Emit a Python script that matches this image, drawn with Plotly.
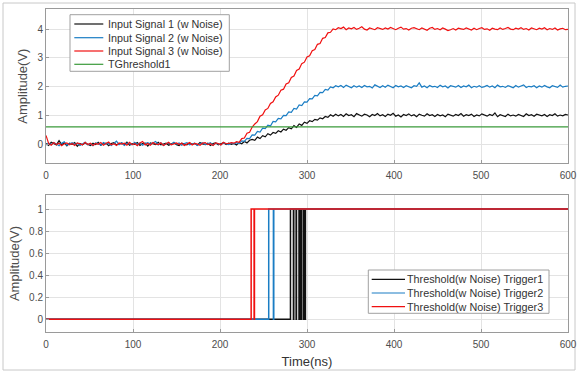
import numpy as np
import plotly.graph_objects as go

# ---------------- data (sampled every 3 ns from 0 to 600 ns) ----------------
signal1 = [
    0.02, -0.05, 0.06, 0.01, -0.03, 0.12, -0.02, 0.04, -0.06, 0.03,
    -0.01, 0.05, -0.08, 0.02, -0.03, 0.04, 0.00, -0.05, 0.03, -0.02,
    0.06, -0.04, 0.01, 0.03, -0.06, 0.02, 0.05, -0.03, 0.00, 0.04,
    -0.02, 0.07, -0.04, 0.01, -0.01, 0.05, -0.05, 0.02, 0.03, -0.07,
    0.04, 0.01, -0.02, 0.06, -0.03, 0.00, 0.03, -0.04, 0.02, 0.05,
    -0.02, -0.05, 0.03, 0.01, -0.03, 0.04, -0.01, 0.02, -0.04, 0.05,
    0.00, -0.02, 0.03, -0.05, 0.02, 0.04, -0.03, 0.01, 0.05, -0.02,
    0.03, -0.01, 0.02, -0.03, 0.05, 0.01, 0.09, 0.04, 0.13, 0.16,
    0.13, 0.24, 0.19, 0.29, 0.25, 0.36, 0.31, 0.40, 0.37, 0.46,
    0.42, 0.52, 0.48, 0.57, 0.53, 0.64, 0.58, 0.70, 0.65, 0.76,
    0.72, 0.81, 0.78, 0.86, 0.83, 0.91, 0.88, 0.96, 0.93, 1.02,
    0.97, 1.04, 0.98, 1.03, 0.96, 1.05, 0.99, 1.02, 0.95, 1.06,
    1.00, 0.97, 1.04, 1.01, 0.95, 1.03, 0.99, 1.06, 0.98, 1.02,
    0.96, 1.04, 1.00, 1.07, 0.97, 1.01, 0.94, 1.03, 0.99, 1.05,
    0.98, 1.02, 0.95, 1.04, 1.00, 0.97, 1.05, 0.99, 1.02, 0.96,
    1.03, 0.98, 1.01, 0.95, 1.04, 1.00, 0.97, 1.03, 0.99, 1.06,
    0.97, 1.02, 0.99, 1.04, 0.96, 1.01, 0.98, 1.05, 1.00, 0.97,
    1.03, 0.99, 1.08, 0.95, 1.02, 1.00, 0.96, 1.04, 0.98, 1.01,
    0.97, 1.03, 1.00, 0.96, 1.05, 0.99, 1.02, 0.97, 1.04, 1.00,
    0.98, 1.03, 0.96, 1.02, 0.99, 1.05, 0.97, 1.01, 0.98, 1.03,
    1.01,
]

signal2 = [
    -0.03, 0.04, -0.02, 0.05, 0.00, -0.06, 0.03, 0.08, -0.04, 0.01,
    0.05, -0.02, 0.03, -0.05, 0.02, 0.06, -0.03, 0.01, -0.06, 0.04,
    0.02, -0.04, 0.05, 0.00, 0.03, -0.05, 0.02, 0.10, -0.02, 0.04,
    -0.05, 0.03, 0.01, -0.03, 0.06, -0.02, 0.04, -0.04, 0.02, 0.05,
    -0.01, 0.03, 0.09, -0.03, 0.04, -0.05, 0.01, 0.03, -0.02, 0.06,
    0.00, 0.04, -0.04, 0.02, 0.05, -0.03, 0.01, 0.03, -0.05, 0.02,
    0.04, -0.02, 0.01, 0.05, -0.04, 0.03, 0.00, -0.03, 0.04, 0.02,
    -0.02, 0.03, 0.01, 0.05, 0.02, 0.11, 0.09, 0.20, 0.19, 0.32,
    0.31, 0.44, 0.42, 0.55, 0.54, 0.66, 0.63, 0.79, 0.77, 0.89,
    0.88, 1.00, 0.99, 1.12, 1.10, 1.24, 1.22, 1.36, 1.34, 1.47,
    1.46, 1.58, 1.57, 1.69, 1.68, 1.80, 1.79, 1.90, 1.88, 1.99,
    1.96, 2.03, 1.99, 2.04, 1.97, 2.05, 2.00, 1.96, 2.03, 1.98,
    2.02, 1.97, 2.04, 1.99, 2.01, 1.95, 2.06, 2.00, 1.97, 2.03,
    1.98, 2.05, 2.00, 1.96, 2.04, 1.99, 2.02, 1.97, 2.03, 2.00,
    1.96, 2.03, 2.01, 2.13, 1.98, 2.02, 1.96, 2.04, 1.99, 2.01,
    1.97, 2.05, 1.99, 2.02, 1.95, 2.03, 2.00, 1.98, 2.04, 1.97,
    2.02, 1.99, 2.05, 1.96, 2.01, 1.98, 2.03, 1.97, 2.00, 2.04,
    1.98, 2.02, 1.96, 2.05, 1.99, 2.01, 1.97, 2.03, 2.00, 1.96,
    2.04, 1.98, 2.02, 2.06, 1.97, 2.01, 1.99, 2.03, 1.96, 2.02,
    1.98, 2.04, 1.99, 1.96, 2.03, 2.00, 1.97, 2.05, 1.98, 2.01,
    2.02,
]

signal3 = [
    0.30, 0.02, -0.04, 0.05, -0.02, 0.03, -0.06, 0.01, 0.04, -0.03,
    0.02, -0.05, 0.04, 0.00, -0.03, 0.06, -0.02, 0.03, -0.05, 0.02,
    -0.01, 0.05, -0.04, 0.02, 0.07, -0.03, 0.01, -0.05, 0.04, 0.00,
    0.03, -0.04, 0.06, -0.02, 0.01, -0.06, 0.04, 0.09, -0.03, 0.02,
    -0.04, 0.05, 0.00, -0.02, 0.04, -0.05, 0.02, 0.06, -0.03, 0.01,
    0.04, -0.02, 0.03, -0.05, 0.01, 0.05, -0.03, 0.02, 0.00, -0.04,
    0.03, 0.05, -0.02, 0.01, -0.05, 0.04, 0.02, -0.03, 0.06, 0.01,
    0.02, 0.05, 0.03, 0.08, 0.06, 0.19, 0.21, 0.38, 0.41, 0.59,
    0.70, 0.78, 0.97, 1.02, 1.19, 1.24, 1.41, 1.47, 1.64, 1.70,
    1.87, 1.91, 2.09, 2.13, 2.32, 2.37, 2.56, 2.61, 2.80, 2.85,
    3.03, 3.07, 3.25, 3.29, 3.47, 3.50, 3.68, 3.71, 3.87, 3.89,
    4.01, 3.98, 4.05, 4.02, 4.07, 3.98, 4.04, 4.01, 4.06, 3.99,
    4.03, 4.08, 4.00, 3.97, 4.04, 4.02, 3.98, 4.05, 4.01, 3.99,
    4.04, 4.00, 4.06, 4.02, 3.98, 4.03, 4.07, 4.00, 4.02, 3.97,
    4.03, 4.05, 4.00, 3.98, 4.04, 4.01, 3.96, 4.03, 4.06, 3.99,
    4.02, 3.98, 4.04, 4.00, 3.95, 3.98, 4.02, 3.97, 4.03, 4.01,
    3.99, 4.04, 4.00, 3.97, 4.03, 3.98, 4.02, 4.05, 3.99, 4.01,
    3.96, 4.03, 4.00, 3.98, 4.04, 3.99, 4.02, 4.06, 4.00, 3.98,
    4.03, 4.00, 4.05, 3.99, 4.02, 3.97, 4.04, 4.01, 3.98, 4.03,
    4.00, 4.05, 3.98, 4.02, 3.99, 4.04, 3.97, 4.01, 4.03, 3.98,
    3.99,
]

threshold_level = 0.6
t_start, t_end = 0, 600

# trigger outputs: switching instants (ns) and the level held after each one
trig1_t = [0, 281, 284.4, 284.8, 287.5, 287.9, 290.8, 291.2, 292.2, 292.6, 293.2, 293.6,
           295.8, 296.2, 297.8, 298.2, 600]
trig1_v = [0, 1, 0, 1, 0, 1, 0, 1, 0, 1, 0, 1, 0, 1, 0, 1, 1]
trig2_t = [0, 256, 261.4, 261.8, 600]
trig2_v = [0, 1, 0, 1, 1]
trig3_t = [0, 235.8, 239.2, 239.6, 600]
trig3_v = [0, 1, 0, 1, 1]

names_top = ["Input Signal 1 (w Noise)", "Input Signal 2 (w Noise)",
             "Input Signal 3 (w Noise)", "TGhreshold1"]
names_bot = ["Threshold(w Noise) Trigger1", "Threshold(w Noise) Trigger2",
             "Threshold(w Noise) Trigger3"]
x_ticks = [0, 100, 200, 300, 400, 500, 600]
y_ticks_top = [0, 1, 2, 3, 4]
y_ticks_bot = [0, 0.2, 0.4, 0.6, 0.8, 1]

# ---------------- styling ----------------
C_BLACK = "#111111"
C_BLUE = "#1a7dc4"
C_RED = "#f01010"
C_GREEN = "#3a9a3a"
FONT = "Liberation Sans, Arial, sans-serif"
TICK_COLOR = "#4d4d4d"
GRID = "#e3e3e3"
BOX = "#9a9a9a"

W, H = 578, 373
ML, MR, MT, MB = 46, 10, 9, 41
PW, PH = W - ML - MR, H - MT - MB


def px(xp):  # figure pixel x -> paper x
    return (xp - ML) / PW


def py(yp):  # figure pixel y -> paper y
    return (H - MB - yp) / PH


fig = go.Figure()

top_cols = [C_BLACK, C_BLUE, C_RED]
for sig, name, col in zip([signal1, signal2, signal3], names_top[:3], top_cols):
    fig.add_trace(go.Scatter(x=np.linspace(t_start, t_end, len(sig)), y=sig, mode="lines",
                             name=name, line=dict(color=col, width=1.2),
                             xaxis="x", yaxis="y"))
fig.add_trace(go.Scatter(x=[t_start, t_end], y=[threshold_level, threshold_level], mode="lines",
                         name=names_top[3], line=dict(color=C_GREEN, width=1.2),
                         xaxis="x", yaxis="y"))

bot_cols = [C_BLACK, C_BLUE, C_RED]
for tt, vv, name, col in zip([trig1_t, trig2_t, trig3_t], [trig1_v, trig2_v, trig3_v],
                             names_bot, bot_cols):
    fig.add_trace(go.Scatter(x=tt, y=vv, mode="lines", line_shape="hv", name=name,
                             line=dict(color=col, width=1.5),
                             xaxis="x2", yaxis="y2"))

axis_common = dict(showgrid=True, gridcolor=GRID, gridwidth=1, zeroline=False,
                   showline=True, linecolor=BOX, linewidth=1, mirror=True,
                   ticks="inside", ticklen=3, tickcolor=BOX, automargin=False,
                   tickfont=dict(family=FONT, size=10, color=TICK_COLOR))

# ---- hand-drawn legends (boxes, line samples and labels) ----
shapes = [dict(type="rect", xref="paper", yref="paper",
               x0=px(3), x1=px(575), y0=py(370), y1=py(3),
               line=dict(color="#c8c8c8", width=1), fillcolor="rgba(0,0,0,0)", layer="below")]
annotations = []


def add_legend(box, line_x, text_x, ys, labels, colors):
    x0, y0, x1, y1 = box
    shapes.append(dict(type="rect", xref="paper", yref="paper",
                       x0=px(x0), x1=px(x1), y0=py(y1), y1=py(y0),
                       line=dict(color="#a0a0a0", width=1), fillcolor="white", layer="above"))
    for yy, lab, col in zip(ys, labels, colors):
        shapes.append(dict(type="line", xref="paper", yref="paper",
                           x0=px(line_x[0]), x1=px(line_x[1]), y0=py(yy), y1=py(yy),
                           line=dict(color=col, width=1.2), layer="above"))
        annotations.append(dict(xref="paper", yref="paper", x=px(text_x), y=py(yy),
                                xanchor="left", yanchor="middle", showarrow=False,
                                text=lab, font=dict(family=FONT, size=10.8, color="#333333"),
                                borderpad=0))


add_legend((70, 14.7, 229.3, 71.3), (74.3, 103.3), 106.5, [24, 37.7, 51, 64.3],
           names_top, top_cols + [C_GREEN])
add_legend((368.3, 270, 549, 313.3), (371.7, 405), 405.5, [279.3, 293, 306.7],
           names_bot, bot_cols)

fig.update_layout(
    width=W, height=H,
    margin=dict(l=ML, r=MR, t=MT, b=MB),
    paper_bgcolor="white", plot_bgcolor="white",
    font=dict(family=FONT, color=TICK_COLOR),
    showlegend=False,
    xaxis=dict(domain=[0, 1], range=[t_start, t_end], tickvals=x_ticks, anchor="y",
               ticklabelstandoff=3, **axis_common),
    yaxis=dict(domain=[py(163), py(9.3)], range=[-0.66, 4.69], tickvals=y_ticks_top, anchor="x",
               title=dict(text="Amplitude(V)", font=dict(family=FONT, size=13, color=TICK_COLOR), standoff=6),
               **axis_common),
    xaxis2=dict(domain=[0, 1], range=[t_start, t_end], tickvals=x_ticks, anchor="y2",
                ticklabelstandoff=3,
                title=dict(text="Time(ns)", font=dict(family=FONT, size=13, color="#333333"), standoff=7),
                **axis_common),
    yaxis2=dict(domain=[0, py(195)], range=[-0.115, 1.127], tickvals=y_ticks_bot, anchor="x2",
                title=dict(text="Amplitude(V)", font=dict(family=FONT, size=13, color=TICK_COLOR), standoff=6),
                **axis_common),
    shapes=shapes,
    annotations=annotations,
)

fig.write_html("out.html", post_script="document.body.style.margin='0';",
               config={"displayModeBar": False})
